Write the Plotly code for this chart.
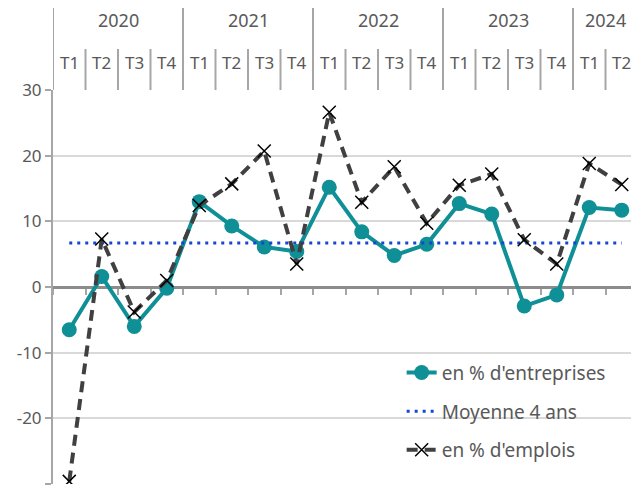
import plotly.graph_objects as go

years = ["2020", "2021", "2022", "2023", "2024"]
quarters = ["T1", "T2", "T3", "T4"] * 4 + ["T1", "T2"]
entreprises = [-6.5, 1.6, -6.0, -0.2, 13.0, 9.3, 6.1, 5.4, 15.2, 8.4, 4.8, 6.5,
               12.7, 11.1, -2.9, -1.2, 12.1, 11.7]
emplois = [-29.6, 7.3, -3.8, 1.0, 12.4, 15.7, 20.7, 3.5, 26.6, 12.9, 18.3, 9.7,
           15.5, 17.2, 7.2, 3.5, 18.8, 15.6]
moyenne = [6.7] * 18
y_ticks = [-30, -20, -10, 0, 10, 20, 30]
y_ticktext = ["-30", "-20", "-10", "0", "10", "20", "30"]

FONT = "Noto Sans"
GREY_TXT = "#595959"
SEP = "#a6a6a6"

x = list(range(len(quarters)))

fig = go.Figure()
fig.add_trace(go.Scatter(
    x=x, y=entreprises, name="en % d'entreprises", mode="lines+markers",
    line=dict(color="#0f8f96", width=4),
    marker=dict(symbol="circle", size=15, color="#0f8f96"),
    legendgroup="a"))
fig.add_trace(go.Scatter(
    x=x, y=moyenne, name="Moyenne 4 ans", mode="lines",
    line=dict(color="#1346d6", width=3, dash="3px,5px"),
    legendgroup="b"))
fig.add_trace(go.Scatter(
    x=x, y=emplois, name="en % d'emplois", mode="lines+markers",
    line=dict(color="#404040", width=4, dash="11px,7px"),
    marker=dict(symbol="x-thin", size=13, color="#000000",
                line=dict(color="#000000", width=1.5)),
    legendgroup="c"))

shapes = []
annotations = []
n = len(quarters)
for i in range(n + 1):
    shapes.append(dict(type="line", xref="x", yref="paper",
                       x0=i - 0.5, x1=i - 0.5, y0=1,
                       y1=1.208 if (i % 4 == 0 and i < n) else 1.104,
                       line=dict(color=SEP, width=2)))
for i, q in enumerate(quarters):
    annotations.append(dict(x=i, y=1.071, xref="x", yref="paper", text=q,
                            showarrow=False, yanchor="middle",
                            font=dict(family=FONT, size=17, color=GREY_TXT)))
for j, yr in enumerate(years):
    start = j * 4
    end = min(start + 4, n)
    annotations.append(dict(x=(start + end - 1) / 2, y=1.178, xref="x", yref="paper",
                            text=yr, showarrow=False, yanchor="middle",
                            font=dict(family=FONT, size=18, color=GREY_TXT)))

fig.update_layout(
    width=631, height=480,
    margin=dict(l=45, r=1, t=82, b=4),
    paper_bgcolor="white", plot_bgcolor="white",
    font=dict(family=FONT, size=17, color=GREY_TXT),
    showlegend=True,
    legend=dict(x=0.596, y=0.331, xanchor="left", yanchor="top",
                bgcolor="rgba(0,0,0,0)", tracegroupgap=11,
                font=dict(family=FONT, size=19, color=GREY_TXT)),
    xaxis=dict(range=[-0.5, n - 0.5], showgrid=False, zeroline=False,
               anchor="free", position=0.5, showline=True,
               linecolor="#8c8c8c", linewidth=2.5, ticks="outside", ticklen=6,
               tickwidth=2, tickcolor="#a6a6a6",
               tickmode="array", tickvals=[i - 0.5 for i in range(n + 1)],
               showticklabels=False, layer="below traces", fixedrange=True),
    yaxis=dict(range=[-30, 30], tickmode="array", tickvals=y_ticks,
               ticktext=y_ticktext, showgrid=True, gridcolor="#d9d9d9",
               gridwidth=1.5, zeroline=False, showline=True, linecolor="#a6a6a6",
               linewidth=2, ticks="outside", ticklen=6, tickcolor="#a6a6a6",
               tickwidth=2, tickfont=dict(family=FONT, size=17, color=GREY_TXT),
               layer="below traces"),
    shapes=shapes, annotations=annotations,
)

fig.write_html("out.html")
